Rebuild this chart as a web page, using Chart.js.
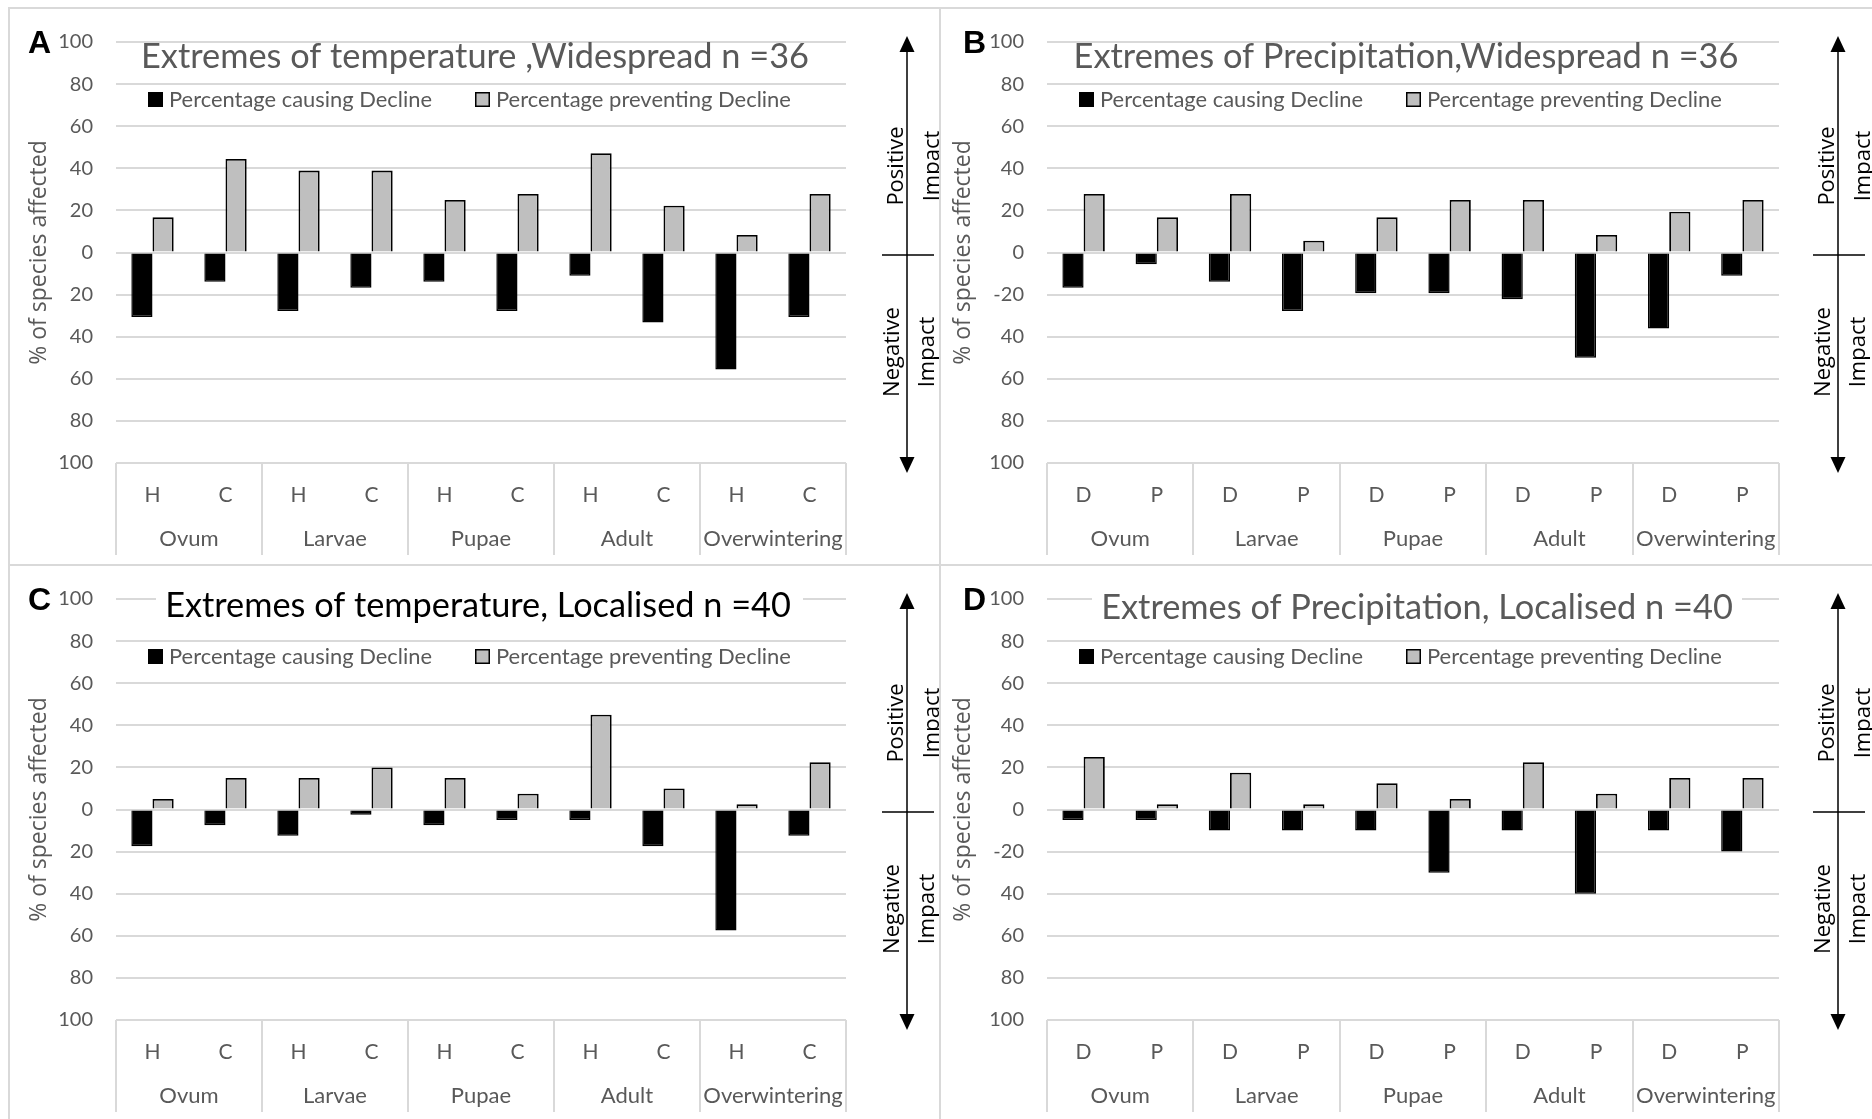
<!DOCTYPE html>
<html>
<head>
<meta charset="utf-8">
<title>Extreme weather impacts by life stage</title>
<script src="https://cdn.jsdelivr.net/npm/chart.js@4.4.1/dist/chart.umd.min.js"></script>
<style>
  html, body { margin: 0; padding: 0; background: #fff; }
  body { width: 1872px; height: 1119px; position: relative; overflow: hidden; }
  canvas { position: absolute; }
</style>
</head>
<body>
<canvas id="panelA" width="931" height="557" style="left:8px;top:7px"></canvas>
<canvas id="panelB" width="933" height="557" style="left:939px;top:7px"></canvas>
<canvas id="panelC" width="931" height="555" style="left:8px;top:564px"></canvas>
<canvas id="panelD" width="933" height="555" style="left:939px;top:564px"></canvas>
<script>
// life stages and the two conditions inside each stage
const stageGroups = ['Ovum', 'Larvae', 'Pupae', 'Adult', 'Overwintering'];
const heatColdCodes = ['H', 'C', 'H', 'C', 'H', 'C', 'H', 'C', 'H', 'C'];
const dryWetCodes = ['D', 'P', 'D', 'P', 'D', 'P', 'D', 'P', 'D', 'P'];

// y tick labels, top to bottom (100 ... -100)
const tempTickLabels = ['100', '80', '60', '40', '20', '0', '20', '40', '60', '80', '100'];
const precipTickLabels = ['100', '80', '60', '40', '20', '0', '-20', '40', '60', '80', '100'];

// % of species, widespread events (n = 36)
const tempWideCausing = [-30.6, -13.9, -27.8, -16.7, -13.9, -27.8, -11.1, -33.3, -55.6, -30.6];
const tempWidePreventing = [16.7, 44.4, 38.9, 38.9, 25.0, 27.8, 47.2, 22.2, 8.3, 27.8];
const precipWideCausing = [-16.7, -5.6, -13.9, -27.8, -19.4, -19.4, -22.2, -50.0, -36.1, -11.1];
const precipWidePreventing = [27.8, 16.7, 27.8, 5.6, 16.7, 25.0, 25.0, 8.3, 19.4, 25.0];

// % of species, localised events (n = 40)
const tempLocalCausing = [-17.5, -7.5, -12.5, -2.5, -7.5, -5.0, -5.0, -17.5, -57.5, -12.5];
const tempLocalPreventing = [5.0, 15.0, 15.0, 20.0, 15.0, 7.5, 45.0, 10.0, 2.5, 22.5];
const precipLocalCausing = [-5.0, -5.0, -10.0, -10.0, -10.0, -30.0, -10.0, -40.0, -10.0, -20.0];
const precipLocalPreventing = [25.0, 2.5, 17.5, 2.5, 12.5, 5.0, 22.5, 7.5, 15.0, 15.0];

const GREY_TEXT = '#595959';
const GRID = '#d9d9d9';

function fitFont(ctx, text, weight, family, width) {
  ctx.font = `${weight} 100px ${family}`;
  const size = 100 * width / ctx.measureText(text).width;
  ctx.font = `${weight} ${size.toFixed(2)}px ${family}`;
}

function decorPlugin(cfg) {
  return {
    id: 'panelDecor',
    afterDraw(chart) {
      const { ctx, chartArea: area } = chart;
      const x = chart.scales.x;
      ctx.save();

      // panel frame (top and left edges)
      ctx.strokeStyle = GRID;
      ctx.lineWidth = 2;
      ctx.beginPath();
      ctx.moveTo(0, 1); ctx.lineTo(chart.width, 1);
      ctx.moveTo(1, 0); ctx.lineTo(1, chart.height);
      ctx.stroke();

      // boxes for the life-stage groups under the category labels
      const n = stageGroups.length;
      const edge = i => i === 0 ? area.left : i === n ? area.right
        : (x.getPixelForValue(2 * i - 1) + x.getPixelForValue(2 * i)) / 2;
      ctx.beginPath();
      for (let i = 0; i <= n; i++) {
        const px = Math.round(edge(i));
        ctx.moveTo(px, area.bottom);
        ctx.lineTo(px, area.bottom + 92);
      }
      ctx.stroke();
      ctx.fillStyle = GREY_TEXT;
      ctx.font = '22px Lato';
      ctx.textAlign = 'center';
      ctx.textBaseline = 'middle';
      stageGroups.forEach((g, i) => ctx.fillText(g, (edge(i) + edge(i + 1)) / 2, area.bottom + 76));

      // chart title
      if (cfg.titleBox) {
        ctx.fillStyle = '#fff';
        ctx.fillRect(cfg.titleBox[0], 14, cfg.titleBox[1] - cfg.titleBox[0], 52);
      }
      fitFont(ctx, cfg.title, '', 'Lato', cfg.titleWidth);
      ctx.fillStyle = cfg.titleColor;
      ctx.textAlign = 'center';
      ctx.textBaseline = 'alphabetic';
      ctx.fillText(cfg.title, cfg.titleX, cfg.titleY);

      // legend
      const [causing, preventing] = chart.data.datasets;
      ctx.fillStyle = causing.backgroundColor;
      ctx.fillRect(140, 85, 15, 15);
      ctx.fillStyle = preventing.backgroundColor;
      ctx.fillRect(467, 85, 15, 15);
      ctx.strokeStyle = '#000';
      ctx.lineWidth = 1.5;
      ctx.strokeRect(467.75, 85.75, 13.5, 13.5);
      ctx.fillStyle = GREY_TEXT;
      ctx.textAlign = 'left';
      fitFont(ctx, causing.label, '', 'Lato', 263);
      ctx.fillText(causing.label, 161, 100);
      fitFont(ctx, preventing.label, '', 'Lato', 295);
      ctx.fillText(preventing.label, 488, 100);

      // panel letter
      ctx.fillStyle = '#000';
      ctx.font = 'bold 32px "Liberation Sans"';
      ctx.fillText(cfg.letter, cfg.letterX, 46);

      // impact arrow on the right
      ctx.strokeStyle = '#000';
      ctx.lineWidth = 1.5;
      ctx.beginPath();
      ctx.moveTo(899, 44); ctx.lineTo(899, 452);
      ctx.moveTo(874, 248); ctx.lineTo(926, 248);
      ctx.stroke();
      ctx.beginPath();
      ctx.moveTo(899, 29); ctx.lineTo(891.5, 45); ctx.lineTo(906.5, 45); ctx.closePath();
      ctx.moveTo(899, 466); ctx.lineTo(891.5, 450); ctx.lineTo(906.5, 450); ctx.closePath();
      ctx.fill();

      const vtext = (t, baseX, cy) => {
        ctx.save();
        ctx.translate(baseX, cy);
        ctx.rotate(-Math.PI / 2);
        ctx.textAlign = 'center';
        ctx.textBaseline = 'alphabetic';
        ctx.fillText(t, 0, 0);
        ctx.restore();
      };
      ctx.font = '22px "Open Sans"';
      vtext('Positive', 895, 159);
      vtext('Impact', 931, 159);
      vtext('Negative', 891, 345);
      vtext('Impact', 926, 345);

      ctx.restore();
    }
  };
}

function makePanel(cfg) {
  return new Chart(document.getElementById(cfg.id), {
    type: 'bar',
    data: {
      labels: cfg.codes,
      datasets: [
        { label: 'Percentage causing Decline', data: cfg.causing,
          backgroundColor: '#000000', borderColor: '#000000', borderWidth: 1.5 },
        { label: 'Percentage preventing Decline', data: cfg.preventing,
          backgroundColor: '#bfbfbf', borderColor: '#000000', borderWidth: 1.8 }
      ]
    },
    options: {
      responsive: false,
      animation: false,
      events: [],
      layout: { padding: { top: 28, bottom: cfg.bottomPad, left: 0, right: 93 } },
      datasets: { bar: { categoryPercentage: 0.58, barPercentage: 1.0 } },
      plugins: { legend: { display: false }, tooltip: { enabled: false } },
      scales: {
        x: {
          grid: { display: false },
          border: { display: false },
          ticks: { color: GREY_TEXT, font: { family: 'Lato', size: 21 }, padding: 12,
                   maxRotation: 0, autoSkip: false },
          afterFit: s => { s.height = 92; }
        },
        y: {
          min: -100,
          max: 100,
          ticks: { stepSize: 20, color: GREY_TEXT, font: { family: 'Lato', size: 20 }, padding: 23,
                   callback: v => cfg.tickLabels[Math.round((100 - v) / 20)] },
          grid: { color: GRID, lineWidth: 2, drawTicks: false },
          border: { display: false },
          title: { display: true, text: '% of species affected', color: GREY_TEXT,
                   font: { family: 'Open Sans', size: 23 },
                   padding: { top: cfg.yTitleX - 13.8, bottom: 0 } },
          afterFit: s => { s.width = 108; }
        }
      }
    },
    plugins: [decorPlugin(cfg)]
  });
}

makePanel({
  id: 'panelA', letter: 'A', letterX: 20, codes: heatColdCodes,
  causing: tempWideCausing, preventing: tempWidePreventing, tickLabels: tempTickLabels,
  title: 'Extremes of temperature ,Widespread n =36', titleX: 467, titleY: 61, titleWidth: 668,
  titleColor: GREY_TEXT, titleBox: null, yTitleX: 31, bottomPad: 9
});
makePanel({
  id: 'panelB', letter: 'B', letterX: 24, codes: dryWetCodes,
  causing: precipWideCausing, preventing: precipWidePreventing, tickLabels: precipTickLabels,
  title: 'Extremes of Precipitation,Widespread n =36', titleX: 467, titleY: 61, titleWidth: 665,
  titleColor: GREY_TEXT, titleBox: null, yTitleX: 24, bottomPad: 9
});
makePanel({
  id: 'panelC', letter: 'C', letterX: 20, codes: heatColdCodes,
  causing: tempLocalCausing, preventing: tempLocalPreventing, tickLabels: tempTickLabels,
  title: 'Extremes of temperature, Localised n =40', titleX: 470, titleY: 53, titleWidth: 626,
  titleColor: '#000000', titleBox: [148, 795], yTitleX: 31, bottomPad: 7
});
makePanel({
  id: 'panelD', letter: 'D', letterX: 24, codes: dryWetCodes,
  causing: precipLocalCausing, preventing: precipLocalPreventing, tickLabels: precipTickLabels,
  title: 'Extremes of Precipitation, Localised n =40', titleX: 478, titleY: 55, titleWidth: 632,
  titleColor: GREY_TEXT, titleBox: [153, 803], yTitleX: 24, bottomPad: 7
});
</script>
</body>
</html>
